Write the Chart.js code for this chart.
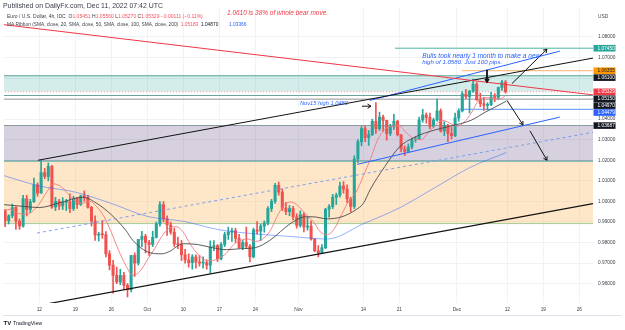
<!DOCTYPE html>
<html><head><meta charset="utf-8">
<script src="https://cdn.jsdelivr.net/npm/chart.js@4.4.1/dist/chart.umd.min.js"></script>
<style>html,body{margin:0;padding:0;background:#fff;}#wrap{position:relative;width:625px;height:330px;}</style>
</head><body><div id="wrap"><canvas id="c" width="625" height="330"></canvas></div>
<script>
// ---------- DATA (EUR/USD, half-day candles, day index: Sep 12 2022 = 0, trading days only) ----------
const firstCandleDay = -5;      // Sep 5
const candleSpan = 0.5;         // half a trading day per candle
const opens = [
 .9955,.9905, .9930,.9970, .9904,.9880, 1.0013,.9960, .9998,1.0080,
 1.0040,1.0140, 1.0121,1.0170, .9972,1.0000, .9977,.9995, .9999,.9965,
 1.0015,.9985, 1.0027,1.0020, .9971,.9905, .9836,.9840, .9838,.9745,
 .9690,.9640, .9608,.9640, .9592,.9570, .9737,.9700, .9815,.9830,
 .9800,.9790, .9825,.9890, .9984,.9915, .9885,.9850, .9792,.9790,
 .9740,.9715, .9702,.9730, .9705,.9700, .9702,.9690, .9778,.9785,
 .9720,.9790, .9838,.9850, .9857,.9820, .9775,.9800, .9782,.9730,
 .9861,.9855, .9880,.9895, .9965,1.0000, 1.0078,1.0045, .9967,.9950,
 .9965,.9925, .9883,.9935, .9875,.9880, .9817,.9760, .9750,.9775,
 .9962,.9975, 1.0020,1.0030, 1.0075,1.0060, 1.0012,.9975, 1.0206,1.0290,
 1.0354,1.0310, 1.0325,1.0390, 1.0354,1.0410, 1.0394,1.0330, 1.0363,1.0390,
 1.0324,1.0255, 1.0243,1.0265, 1.0300,1.0305, 1.0396,1.0420, 1.0408,1.0365,
 1.0396,1.0440, 1.0342,1.0370, 1.0330,1.0320, 1.0406,1.0440, 1.0523,1.0510,
 1.0536,1.0570, 1.0494,1.0475, 1.0467,1.0470, 1.0508,1.0505, 1.0554,1.0580];
const highs = [
 .9960,.9935, .9987,.9975, .9915,1.0030, 1.0030,1.0010, 1.0113,1.0090,
 1.0198,1.0160, 1.0187,1.0175, 1.0020,1.0010, 1.0018,1.0010, 1.0037,1.0025,
 1.0020,1.0030, 1.0051,1.0030, .9976,.9930, .9850,.9907, .9853,.9760,
 .9713,.9680, .9670,.9655, .9600,.9737, .9750,.9815, .9854,.9840,
 .9810,.9855, .9900,.9999, .9999,.9930, .9899,.9870, .9826,.9810,
 .9767,.9745, .9741,.9740, .9737,.9730, .9715,.9808, .9809,.9790,
 .9800,.9850, .9875,.9870, .9869,.9840, .9810,.9875, .9790,.9870,
 .9902,.9890, .9905,.9975, 1.0010,1.0088, 1.0094,1.0060, .9995,.9980,
 .9976,.9940, .9954,.9945, .9924,.9905, .9818,.9785, .9790,.9966,
 .9985,1.0034, 1.0040,1.0094, 1.0096,1.0080, 1.0020,1.0222, 1.0300,1.0364,
 1.0368,1.0345, 1.0400,1.0480, 1.0434,1.0420, 1.0395,1.0375, 1.0424,1.0395,
 1.0325,1.0270, 1.0280,1.0305, 1.0315,1.0410, 1.0448,1.0430, 1.0430,1.0405,
 1.0497,1.0450, 1.0388,1.0375, 1.0360,1.0429, 1.0450,1.0534, 1.0545,1.0540,
 1.0595,1.0580, 1.0526,1.0505, 1.0480,1.0531, 1.0525,1.0556, 1.0589,1.0588];
const lows = [
 .9877,.9890, .9920,.9864, .9864,.9875, .9929,.9945, .9995,1.0025,
 1.0040,1.0110, 1.0100,.9966, .9955,.9960, .9960,.9955, .9945,.9955,
 .9966,.9980, 1.0000,.9967, .9880,.9810, .9807,.9820, .9730,.9667,
 .9553,.9600, .9595,.9570, .9535,.9560, .9635,.9690, .9780,.9749,
 .9737,.9780, .9822,.9880, .9900,.9835, .9840,.9780, .9770,.9712,
 .9700,.9680, .9670,.9675, .9685,.9675, .9670,.9650, .9760,.9707,
 .9715,.9780, .9815,.9805, .9800,.9772, .9765,.9770, .9706,.9725,
 .9840,.9810, .9850,.9885, .9950,.9990, 1.0030,.9955, .9935,.9930,
 .9910,.9870, .9875,.9851, .9860,.9811, .9755,.9730, .9746,.9770,
 .9923,.9965, .9985,1.0020, 1.0040,.9994, .9950,.9965, 1.0188,1.0270,
 1.0290,1.0272, 1.0320,1.0330, 1.0345,1.0340, 1.0298,1.0320, 1.0350,1.0318,
 1.0240,1.0223, 1.0240,1.0255, 1.0288,1.0300, 1.0385,1.0380, 1.0354,1.0360,
 1.0390,1.0337, 1.0320,1.0290, 1.0304,1.0315, 1.0390,1.0435, 1.0500,1.0430,
 1.0530,1.0491, 1.0460,1.0443, 1.0445,1.0465, 1.0485,1.0495, 1.0540,1.0527];
const closes = [
 .9905,.9930, .9970,.9904, .9880,1.0013, .9960,.9998, 1.0080,1.0040,
 1.0140,1.0121, 1.0170,.9972, 1.0000,.9977, .9995,.9999, .9965,1.0015,
 .9985,1.0027, 1.0020,.9971, .9905,.9836, .9840,.9838, .9745,.9690,
 .9640,.9608, .9640,.9592, .9570,.9737, .9700,.9815, .9830,.9800,
 .9790,.9825, .9890,.9984, .9915,.9885, .9850,.9792, .9790,.9740,
 .9715,.9702, .9730,.9705, .9700,.9702, .9690,.9778, .9785,.9720,
 .9790,.9838, .9850,.9857, .9820,.9775, .9800,.9782, .9730,.9861,
 .9855,.9880, .9895,.9965, 1.0000,1.0078, 1.0045,.9967, .9950,.9965,
 .9925,.9883, .9935,.9875, .9880,.9817, .9760,.9750, .9775,.9962,
 .9975,1.0020, 1.0030,1.0075, 1.0060,1.0012, .9975,1.0206, 1.0290,1.0354,
 1.0310,1.0325, 1.0390,1.0354, 1.0410,1.0394, 1.0330,1.0363, 1.0390,1.0324,
 1.0255,1.0243, 1.0265,1.0300, 1.0305,1.0396, 1.0420,1.0408, 1.0365,1.0396,
 1.0440,1.0342, 1.0370,1.0330, 1.0320,1.0406, 1.0440,1.0523, 1.0510,1.0536,
 1.0570,1.0494, 1.0475,1.0467, 1.0470,1.0508, 1.0505,1.0554, 1.0580,1.0533];

// Moving-average ribbon lines visible in the picture (day index, price)
const sma20Days = [-4.9,-4,-3,-2,-1,0,1,2,3,4,5,6,7,8,9,10,11,12,13,14,15,16,17,18,19,20,21,22,23,24,25,26,27,28,29,30,31,32,33,34,35,36,37,38,39,40,41,42,43,44,45,46,47,48,49,50,51,52,53,54,55,56,57,58,59,60,61,62,63,64,64.85];
const sma20Vals = [.9958,.9961,.9943,.9937,.9950,.9988,1.0043,1.0085,1.0072,1.0037,1.0000,.9991,1.0000,.9973,.9925,.9850,.9763,.9690,.9640,.9661,.9715,.9769,.9829,.9868,.9877,.9850,.9790,.9745,.9715,.9712,.9725,.9748,.9790,.9811,.9817,.9805,.9817,.9853,.9925,.9982,.9997,.9976,.9937,.9904,.9853,.9838,.9868,.9937,1.0003,1.0045,1.0123,1.0207,1.0300,1.0351,1.0366,1.0367,1.0333,1.0306,1.0300,1.0333,1.0370,1.0394,1.0381,1.0366,1.0385,1.0430,1.0490,1.0504,1.0501,1.0498,1.0518];
const sma50Days = [-4.9,-2,0,3,6,8,10,12,13,15,17,18,20,22,24,26,28,30,32,35,37,38,40,42,44,45,46,48,50,52,55,57,60,62,64.85];
const sma50Vals = [.9984,.9975,.9970,.9995,1.0020,.9990,.9935,.9860,.9810,.9755,.9745,.9755,.9794,.9790,.9775,.9765,.9770,.9775,.9810,.9895,.9925,.9925,.9915,.9925,.9960,.9990,1.0060,1.0170,1.0264,1.0310,1.0348,1.0365,1.0395,1.0435,1.0487];
const sma200Days = [-4.9,0,5,10,15,20,25,30,35,40,45,50,55,60,64.85];
const sma200Vals = [1.0125,1.0075,1.0045,.9990,.9927,.9903,.9862,.9842,.9829,.9817,.9891,.9968,1.0068,1.0168,1.0237];

// Axis ticks
const xTickDays   = [0,5,10,15,20,25,30,36,45,50,58,65,70,75];
const xTickLabels = ['12','19','26','Oct','10','17','24','Nov','14','21','Dec','12','19','26'];
const yTickValues = [0.96,0.97,0.98,0.99,1.00,1.01,1.02,1.03,1.04,1.05,1.06,1.07,1.08];

// Shaded zones (price bands)
const zoneTops    = [1.0611, 1.0369, 1.0196];
const zoneBottoms = [1.0535, 1.0196, 0.9892];

// Horizontal levels (price, first day)
const levelPrices = [1.0745, 1.06355, 1.0515, 1.0497, 1.04479, 1.05329];
const levelFrom   = [49.4, 58.7, -6, -6, 58.4, -6];

// Trend lines (start day, start price, end day, end price)
const trendFromDay   = [-5.04, -0.18, 0.1, 44.15, 45.9, -0.32];
const trendFromPrice = [1.0860, 1.0200, 0.9495, 1.0180, 1.0491, 0.9846];
const trendToDay     = [76.9, 76.9, 76.9, 72.3, 72.3, 76.9];
const trendToPrice   = [1.0518, 1.0697, 0.9989, 1.0410, 1.0731, 1.0336];

// Arrows (start day, start price, end day, end price)
const arrowFromDay   = [65.65, 62.18, 64.96, 68.15, 44.82];
const arrowFromPrice = [1.0573, 1.0640, 1.0491, 1.0343, 1.0463];
const arrowToDay     = [70.51, 62.18, 67.18, 70.51, 46.07];
const arrowToPrice   = [1.0740, 1.0582, 1.0372, 1.0200, 1.0463];

// Price-scale badges
const badgeValues = [1.0745, 1.06355, 1.061, 1.05329, 1.0515, 1.0497, 1.04479, 1.03687];

// ---------- STYLE ----------
const FONT = "'Liberation Sans', Arial, sans-serif";
const UP = '#26a69a', DOWN = '#ef5350';
const zoneFill   = ['rgba(38,166,154,0.20)','rgba(120,100,150,0.30)','rgba(252,190,110,0.38)'];
const zoneTopCol = ['#5aa69a','#8a9ba0','#74b8ac'];
const zoneBotCol = ['rgba(0,0,0,0)','#74b8ac','#8fd0a0'];
const levelCol   = ['#4fb3a3','#f8b26a','#6aa6a0','#9a9a9a','#5b8ff9','rgba(242,54,69,0.5)'];
const levelDash  = [[],[],[],[],[],[1,2]];
const trendCol   = ['#f23645','#111111','#111111','#2962ff','#2962ff','#6f98f2'];
const trendW     = [1, 1, 1.2, 1, 1, 0.9];
const trendDash  = [[],[],[],[],[],[3,3]];
const badgeBg    = ['#26a69a','#ff9800','#131722','#f23645','#131722','#131722','#2962ff','#131722'];
const badgeFg    = ['#fff','#131722','#fff','#fff','#fff','#fff','#fff','#fff'];

// ---------- BUILD DATASETS ----------
const xMin = -4.903, xMax = 76.903, yMin = 0.95057, yMax = 1.09412;
const candleX = opens.map((_, i) => firstCandleDay + candleSpan * (i + 0.5));
const candleCol = opens.map((o, i) => closes[i] >= o ? UP : DOWN);
const pts = (ds, vs) => ds.map((d, i) => ({x: d, y: vs[i]}));

const datasets = [];
zoneTops.forEach((t, i) => {
  datasets.push({type:'line', data:[{x:-6,y:t},{x:80,y:t}], borderColor:zoneTopCol[i], borderWidth:1,
    backgroundColor:zoneFill[i], fill:'+1', pointRadius:0, order:100, clip:0});
  datasets.push({type:'line', data:[{x:-6,y:zoneBottoms[i]},{x:80,y:zoneBottoms[i]}], borderColor:zoneBotCol[i], borderWidth:1,
    fill:false, pointRadius:0, order:100, clip:0});
});
levelPrices.forEach((p, i) => {
  datasets.push({type:'line', data:[{x:levelFrom[i],y:p},{x:80,y:p}], borderColor:levelCol[i], borderWidth:1,
    borderDash:levelDash[i], fill:false, pointRadius:0, order:90, clip:0});
});
datasets.push({type:'bar', data: candleX.map((x, i) => ({x, y:[lows[i], highs[i]]})), backgroundColor:candleCol,
  barThickness:1, grouped:false, order:60, clip:0});
datasets.push({type:'bar', data: candleX.map((x, i) => ({x, y:[opens[i], closes[i]]})), backgroundColor:candleCol,
  barThickness:2.4, minBarLength:1, grouped:false, order:59, clip:0});
[[sma200Days,sma200Vals,'rgba(41,98,255,0.55)'],[sma50Days,sma50Vals,'#4a4a4a'],[sma20Days,sma20Vals,'#f07a80']]
 .forEach(([d, v, c]) => datasets.push({type:'line', data:pts(d, v), borderColor:c, borderWidth:0.9, pointRadius:0,
   tension:0.4, cubicInterpolationMode:'monotone', fill:false, order:50, clip:0}));
trendFromDay.forEach((d, i) => {
  datasets.push({type:'line', data:[{x:d,y:trendFromPrice[i]},{x:trendToDay[i],y:trendToPrice[i]}], borderColor:trendCol[i],
    borderWidth:trendW[i], borderDash:trendDash[i], fill:false, pointRadius:0, order:10, clip:0});
});

function arrow(ctx, x1, y1, x2, y2, h) {
  ctx.beginPath(); ctx.moveTo(x1, y1); ctx.lineTo(x2, y2); ctx.stroke();
  const a = Math.atan2(y2 - y1, x2 - x1);
  ctx.beginPath();
  ctx.moveTo(x2 - h * Math.cos(a - 0.55), y2 - h * Math.sin(a - 0.55));
  ctx.lineTo(x2, y2);
  ctx.lineTo(x2 - h * Math.cos(a + 0.55), y2 - h * Math.sin(a + 0.55));
  ctx.stroke();
}
function runs(ctx, x, y, parts) {
  parts.forEach(([t, c]) => { ctx.fillStyle = c; ctx.fillText(t, x, y); x += ctx.measureText(t).width; });
  return x;
}
function fitRuns(ctx, x, y, parts, width, style) {
  ctx.font = style + ' 10px ' + FONT;
  const w = parts.reduce((s, p) => s + ctx.measureText(p[0]).width, 0);
  ctx.font = style + ' ' + (10 * width / w).toFixed(2) + 'px ' + FONT;
  runs(ctx, x, y, parts);
}

const overlay = {
  id: 'overlay',
  afterDatasetsDraw(chart) {
    const {ctx, scales: {x, y}, chartArea: ca} = chart;
    ctx.save();
    ctx.beginPath(); ctx.rect(ca.left, ca.top, ca.right - ca.left, ca.bottom - ca.top); ctx.clip();
    ctx.strokeStyle = '#111'; ctx.lineWidth = 1;
    arrowFromDay.forEach((d, i) => {
      ctx.lineWidth = i === 1 ? 1.8 : 1;
      arrow(ctx, x.getPixelForValue(d), y.getPixelForValue(arrowFromPrice[i]),
        x.getPixelForValue(arrowToDay[i]), y.getPixelForValue(arrowToPrice[i]), i === 1 ? 3.5 : 4);
    });
    ctx.textBaseline = 'middle';
    fitRuns(ctx, x.getPixelForValue(36.2), y.getPixelForValue(1.0477), [['Nov15 high 1.0480', '#2962ff']], 48, 'italic');
    fitRuns(ctx, x.getPixelForValue(53.2), y.getPixelForValue(1.0708), [['Bulls took nearly 1 month to make a new', '#2962ff']], 118, 'italic');
    fitRuns(ctx, x.getPixelForValue(53.2), y.getPixelForValue(1.0676), [['high of 1.0580. Just 100 pips.', '#2962ff']], 80, 'italic');
    ctx.restore();
  },
  afterDraw(chart) {
    const {ctx, scales: {y}, chartArea: ca} = chart;
    ctx.save();
    ctx.textBaseline = 'middle';
    fitRuns(ctx, 3, 6.5, [['Published on DailyFx.com, Dec 11, 2022 07:42 UTC', '#3a3e48']], 160, '');
    const R = '#f7525f', K = '#3a3e48';
    fitRuns(ctx, 7, 16.8, [['Euro / U.S. Dollar, 4h, IDC  ', K], ['O', K], ['1.05451 ', R], ['H', K], ['1.05560 ', R],
      ['L', K], ['1.05270 ', R], ['C', K], ['1.05329 \u22120.00111 (\u22120.11%)', R]], 196, '');
    fitRuns(ctx, 7, 24.6, [['MA Ribbon (SMA, close, 20, SMA, close, 50, SMA, close, 100, SMA, close, 200)  ', K],
      ['1.05183  ', R], ['1.04870  ', '#131722'], ['      ', K], ['1.03366', '#2962ff']], 240, '');
    fitRuns(ctx, 227, 13.2, [['1.0610 is 38% of whole bear move.', '#f23645']], 101, 'italic');
    ctx.font = '4.8px ' + FONT; ctx.fillStyle = '#3a3e48';
    ctx.fillText('USD', 598, 16.5);
    const ys = badgeValues.map(v => y.getPixelForValue(v));
    const order = ys.map((v, i) => i).sort((a, b) => ys[a] - ys[b]);
    let last = -99; const py = [];
    order.forEach(i => { let v = Math.max(ys[i], last + 6.9); py[i] = v; last = v; });
    ctx.font = '4.8px ' + FONT;
    badgeValues.forEach((v, i) => {
      ctx.fillStyle = badgeBg[i];
      ctx.fillRect(ca.right + 0.5, py[i] - 3.3, 22, 6.6);
      ctx.fillStyle = badgeFg[i];
      ctx.fillText(v.toFixed(5), ca.right + 4.5, py[i] + 0.2);
    });
    ctx.strokeStyle = '#e0e3eb'; ctx.lineWidth = 1;
    ctx.beginPath(); ctx.moveTo(3, 315.5); ctx.lineTo(622, 315.5); ctx.stroke();
    ctx.font = 'bold 6px ' + FONT; ctx.fillStyle = '#131722';
    ctx.fillText('TV', 3.5, 323.5);
    ctx.font = '5.3px ' + FONT;
    ctx.fillText('TradingView', 13, 323.5);
    ctx.restore();
  }
};

new Chart(document.getElementById('c'), {
  type: 'line',
  data: {datasets},
  options: {
    responsive: false, devicePixelRatio: 1, animation: false, events: [],
    layout: {padding: {left: 4, top: 3, right: 0, bottom: 0}},
    plugins: {legend: {display: false}, tooltip: {enabled: false}},
    scales: {
      x: {type: 'linear', min: xMin, max: xMax, offset: false, position: 'bottom',
        grid: {color: '#f0f2f6', lineWidth: 1, drawTicks: false, offset: false}, border: {display: false},
        afterBuildTicks: s => { s.ticks = xTickDays.map(v => ({value: v})); },
        afterFit: s => { s.height = 27; },
        ticks: {font: {family: FONT, size: 4.8}, color: '#3a3e48', padding: 4, maxRotation: 0, autoSkip: false,
          callback: (v, i) => xTickLabels[i]}},
      y: {type: 'linear', min: yMin, max: yMax, position: 'right', beginAtZero: false,
        grid: {color: '#f0f2f6', lineWidth: 1, drawTicks: false}, border: {display: false},
        afterBuildTicks: s => { s.ticks = yTickValues.map(v => ({value: v})); },
        afterFit: s => { s.width = 32; },
        ticks: {font: {family: FONT, size: 4.8}, color: '#3a3e48', padding: 5,
          callback: v => (Math.abs(v - 1.05) < 1e-6 || Math.abs(v - 1.06) < 1e-6) ? '' : v.toFixed(5)}}
    }
  },
  plugins: [overlay]
});
</script></body></html>
